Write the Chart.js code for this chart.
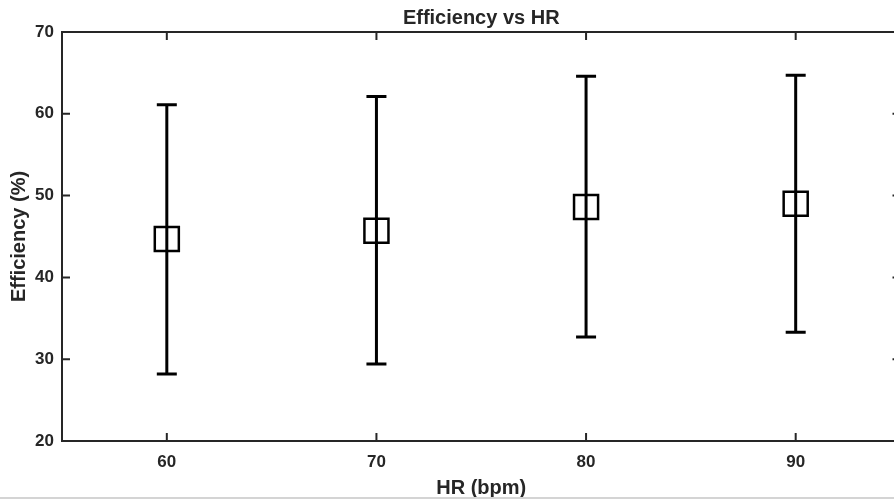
<!DOCTYPE html>
<html>
<head>
<meta charset="utf-8">
<title>Efficiency vs HR</title>
<script src="https://cdn.jsdelivr.net/npm/chart.js@4"></script>
<style>
  html, body { margin: 0; padding: 0; background: #fff; overflow: hidden; }
  #wrap { position: relative; width: 894px; height: 501px; overflow: hidden; }
  #chart { position: absolute; left: 0; top: 0; }
  #edge { position: absolute; left: 0; top: 497px; width: 894px; height: 2px; background: #d4d4d4; }
</style>
</head>
<body>
<div id="wrap">
  <canvas id="chart" width="920" height="501"></canvas>
  <div id="edge"></div>
</div>
<script>
// heart rate groups and efficiency mean with lower / upper error limits
const hr = [60, 70, 80, 90];
const effMean = [44.7, 45.7, 48.6, 49.0];
const effLower = [28.2, 29.4, 32.7, 33.3];
const effUpper = [61.1, 62.1, 64.6, 64.7];

const xTicks = [60, 70, 80, 90];
const yTicks = [20, 30, 40, 50, 60, 70];

const ink = '#262626';
const tickFont = { family: 'Liberation Sans, Arial, sans-serif', size: 17, weight: 'bold' };
const labelFont = 'bold 20px "Liberation Sans", Arial, sans-serif';

// error bars, frame with inward ticks, and the titles
const matlabAxes = {
    id: 'matlabAxes',
    beforeDatasetsDraw(chart) {
        const { ctx } = chart;
        const xs = chart.scales.x, ys = chart.scales.y;
        ctx.save();
        ctx.strokeStyle = '#000';
        ctx.lineWidth = 3;
        ctx.lineCap = 'butt';
        hr.forEach((v, i) => {
            const x = xs.getPixelForValue(v);
            const yl = ys.getPixelForValue(effLower[i]);
            const yu = ys.getPixelForValue(effUpper[i]);
            ctx.beginPath();
            ctx.moveTo(x, yl); ctx.lineTo(x, yu);
            ctx.moveTo(x - 10, yl); ctx.lineTo(x + 10, yl);
            ctx.moveTo(x - 10, yu); ctx.lineTo(x + 10, yu);
            ctx.stroke();
        });
        ctx.restore();
    },
    afterDraw(chart) {
        const { ctx, chartArea: a } = chart;
        const xs = chart.scales.x, ys = chart.scales.y;
        ctx.save();
        ctx.strokeStyle = ink;
        ctx.lineWidth = 2;
        ctx.strokeRect(a.left, a.top, a.right - a.left, a.bottom - a.top);
        const tl = 8;
        ctx.beginPath();
        xTicks.forEach(v => {
            const x = xs.getPixelForValue(v);
            ctx.moveTo(x, a.bottom); ctx.lineTo(x, a.bottom - tl);
            ctx.moveTo(x, a.top); ctx.lineTo(x, a.top + tl);
        });
        yTicks.forEach(v => {
            const y = ys.getPixelForValue(v);
            ctx.moveTo(a.left, y); ctx.lineTo(a.left + tl, y);
            ctx.moveTo(a.right, y); ctx.lineTo(a.right - tl, y);
        });
        ctx.stroke();

        ctx.fillStyle = ink;
        ctx.font = labelFont;
        ctx.textAlign = 'center';
        ctx.textBaseline = 'middle';
        const cx = (a.left + a.right) / 2;
        ctx.fillText('Efficiency vs HR', cx, 18);
        ctx.fillText('HR (bpm)', cx, 488);
        ctx.translate(19, (a.top + a.bottom) / 2);
        ctx.rotate(-Math.PI / 2);
        ctx.fillText('Efficiency (%)', 0, 0);
        ctx.restore();
    }
};

new Chart(document.getElementById('chart'), {
    type: 'scatter',
    data: {
        datasets: [{
            data: hr.map((v, i) => ({ x: v, y: effMean[i] })),
            pointStyle: 'rect',
            pointRadius: 17,
            pointHoverRadius: 17,
            borderColor: '#000',
            borderWidth: 2.5,
            backgroundColor: 'rgba(0,0,0,0)'
        }]
    },
    options: {
        responsive: false,
        animation: false,
        events: [],
        layout: { padding: { left: 0, top: 32, right: 11, bottom: 0 } },
        plugins: { legend: { display: false }, tooltip: { enabled: false }, title: { display: false } },
        scales: {
            x: {
                type: 'linear',
                min: 55,
                max: 95,
                afterBuildTicks: s => { s.ticks = xTicks.map(v => ({ value: v })); },
                afterFit: s => { s.height = 60; },
                grid: { display: false, drawTicks: false },
                border: { display: false },
                ticks: { color: ink, font: tickFont, padding: 11, maxRotation: 0 }
            },
            y: {
                type: 'linear',
                min: 20,
                max: 70,
                afterBuildTicks: s => { s.ticks = yTicks.map(v => ({ value: v })); },
                afterFit: s => { s.width = 62; },
                grid: { display: false, drawTicks: false },
                border: { display: false },
                ticks: { color: ink, font: tickFont, padding: 8 }
            }
        }
    },
    plugins: [matlabAxes]
});
</script>
</body>
</html>
